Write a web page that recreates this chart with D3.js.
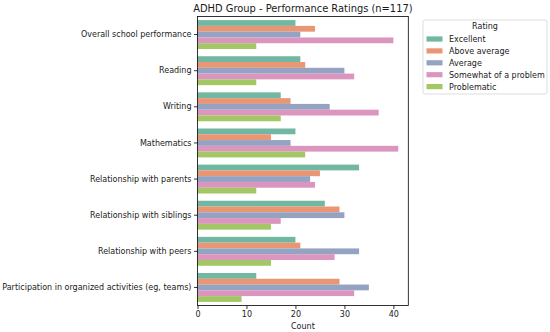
<!DOCTYPE html>
<html>
<head>
<meta charset="utf-8">
<script src="https://cdn.jsdelivr.net/npm/d3@7"></script>
<style>
  body { margin: 0; background: #fff; }
  svg { font-family: "DejaVu Sans", sans-serif; }
</style>
</head>
<body>
<script>
// chart data
var categories = [
  "Overall school performance",
  "Reading",
  "Writing",
  "Mathematics",
  "Relationship with parents",
  "Relationship with siblings",
  "Relationship with peers",
  "Participation in organized activities (eg, teams)"
];
var ratings = ["Excellent", "Above average", "Average", "Somewhat of a problem", "Problematic"];
var excellent    = [20, 21, 17, 20, 33, 26, 20, 12];
var aboveAverage = [24, 22, 19, 15, 25, 29, 21, 29];
var average      = [21, 30, 27, 19, 23, 30, 33, 35];
var somewhat     = [40, 32, 37, 41, 24, 17, 28, 32];
var problematic  = [12, 12, 17, 22, 12, 15, 15, 9];
var xTicks = [0, 10, 20, 30, 40];

var series = [excellent, aboveAverage, average, somewhat, problematic];
var colors = ["#71b7a1", "#e99675", "#95a3c3", "#db96c0", "#a2c764"];

var rows = [];
categories.forEach(function(c, i) {
  ratings.forEach(function(r, j) {
    rows.push({cat: c, rating: r, value: series[j][i]});
  });
});

//Start Building Frame
var W = 550, H = 332;
var plot = {left: 197.5, right: 408.3, top: 16.5, bottom: 305.5};
var fs = "8px";

var svg = d3.select("body").append("svg")
    .attr("width", W)
    .attr("height", H);

var x = d3.scaleLinear()
    .domain([0, 43.05])
    .range([plot.left, plot.right]);

var y = d3.scaleBand()
    .domain(categories)
    .range([plot.top, plot.bottom])
    .paddingInner(0.2)
    .paddingOuter(0.1);

var y1 = d3.scaleBand()
    .domain(ratings)
    .range([0, y.bandwidth()]);

var color = d3.scaleOrdinal()
    .domain(ratings)
    .range(colors);

// bars
svg.append("g").selectAll("rect")
    .data(rows)
  .enter().append("rect")
    .attr("x", x(0))
    .attr("y", function(d) { return y(d.cat) + y1(d.rating); })
    .attr("width", function(d) { return x(d.value) - x(0); })
    .attr("height", y1.bandwidth())
    .attr("fill", function(d) { return color(d.rating); });

// axes
var xAxis = d3.axisBottom(x)
    .tickValues(xTicks)
    .tickSize(3.5)
    .tickPadding(2.5);

var yAxis = d3.axisLeft(y)
    .tickSize(3.5)
    .tickPadding(2.5);

var gx = svg.append("g")
    .attr("transform", "translate(0," + plot.bottom + ")")
    .call(xAxis);

var gy = svg.append("g")
    .attr("transform", "translate(" + plot.left + ",0)")
    .call(yAxis);

[gx, gy].forEach(function(g) {
  g.select(".domain").remove();
  g.selectAll("line").attr("stroke", "#000").attr("stroke-width", 0.8);
  g.selectAll("text")
    .attr("fill", "#1a1a1a")
    .style("font-size", fs)
    .style("font-family", "DejaVu Sans");
});

// frame
svg.append("rect")
    .attr("x", plot.left)
    .attr("y", plot.top)
    .attr("width", plot.right - plot.left)
    .attr("height", plot.bottom - plot.top)
    .attr("fill", "none")
    .attr("stroke", "#000")
    .attr("stroke-width", 0.8);
//End Building Frame

// title & axis label
svg.append("text")
    .attr("x", (plot.left + plot.right) / 2)
    .attr("y", 11.5)
    .attr("text-anchor", "middle")
    .style("font-size", "9.9px")
    .attr("fill", "#1a1a1a")
    .text("ADHD Group - Performance Ratings (n=117)");

svg.append("text")
    .attr("x", (plot.left + plot.right) / 2)
    .attr("y", 329)
    .attr("text-anchor", "middle")
    .style("font-size", fs)
    .attr("fill", "#1a1a1a")
    .text("Count");

// legend
var legend = svg.append("g");

legend.append("rect")
    .attr("x", 423)
    .attr("y", 20)
    .attr("width", 124)
    .attr("height", 74)
    .attr("rx", 2)
    .attr("fill", "#fff")
    .attr("stroke", "#d4d4d4")
    .attr("stroke-width", 0.8);

legend.append("text")
    .attr("x", 485)
    .attr("y", 29)
    .attr("text-anchor", "middle")
    .style("font-size", fs)
    .attr("fill", "#1a1a1a")
    .text("Rating");

var item = legend.selectAll(".item")
    .data(ratings)
  .enter().append("g")
    .attr("class", "item")
    .attr("transform", function(d, i) { return "translate(0," + (39 + i * 11.9) + ")"; });

item.append("rect")
    .attr("x", 426.5)
    .attr("y", -2.6)
    .attr("width", 16)
    .attr("height", 5.2)
    .attr("fill", function(d) { return color(d); });

item.append("text")
    .attr("x", 449)
    .attr("y", 2.9)
    .style("font-size", fs)
    .attr("fill", "#1a1a1a")
    .text(function(d) { return d; });
</script>
</body>
</html>
